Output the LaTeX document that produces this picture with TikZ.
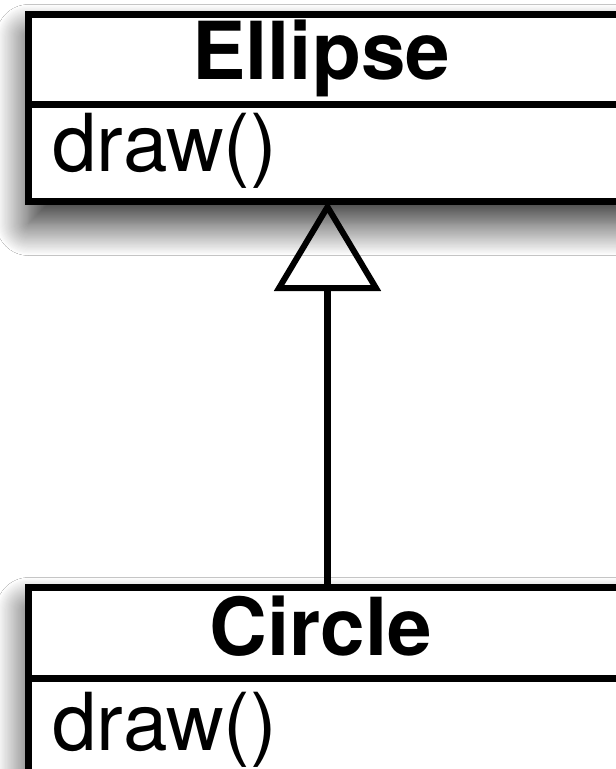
\documentclass[tikz,border=0pt]{standalone}
\usepackage{fontspec}
\setmainfont{TeX Gyre Heros}
\usetikzlibrary{arrows.meta,shadows.blur}
\begin{document}
\begin{tikzpicture}[x=1pt,y=-1pt,
  classbox/.style={draw,line width=7pt,fill=white,minimum width=603pt,minimum height=187pt,inner sep=0pt,anchor=north west,
    blur shadow={shadow xshift=0pt,shadow yshift=-22pt,shadow blur radius=32pt,shadow opacity=85,shadow blur steps=30}},
  titletext/.style={font=\fontsize{80}{92}\selectfont\bfseries,inner sep=0pt,anchor=base},
  optext/.style={font=\fontsize{80}{92}\selectfont,inner sep=0pt,anchor=base west},
  divider/.style={line width=7pt},
  inherit/.style={line width=7pt,shorten >=-4pt,-{Triangle[open,length=90pt,width=106pt,line width=6pt]}}]
\useasboundingbox (0,0) rectangle (616,769);
\fill[white] (0,0) rectangle (616,769);
% Ellipse class
\node[classbox] (ell) at (25,11) {};
\coordinate (d1) at (0,104);
\draw[divider] (ell.west |- d1) -- (ell.east |- d1);
\node[titletext] (ellname) at (321,79) {Ellipse};
\node[optext] (ellop) at (52,171) {draw()};
% Circle class
\node[classbox] (cir) at (25,584) {};
\coordinate (d2) at (0,678);
\draw[divider] (cir.west |- d2) -- (cir.east |- d2);
\node[titletext] (cirname) at (321,655) {Circle};
\node[optext] (cirop) at (52,750) {draw()};
% generalization
\draw[inherit] ([xshift=-2.5pt]cir.north) -- ([xshift=-2.5pt]ell.south);
\end{tikzpicture}
\end{document}
